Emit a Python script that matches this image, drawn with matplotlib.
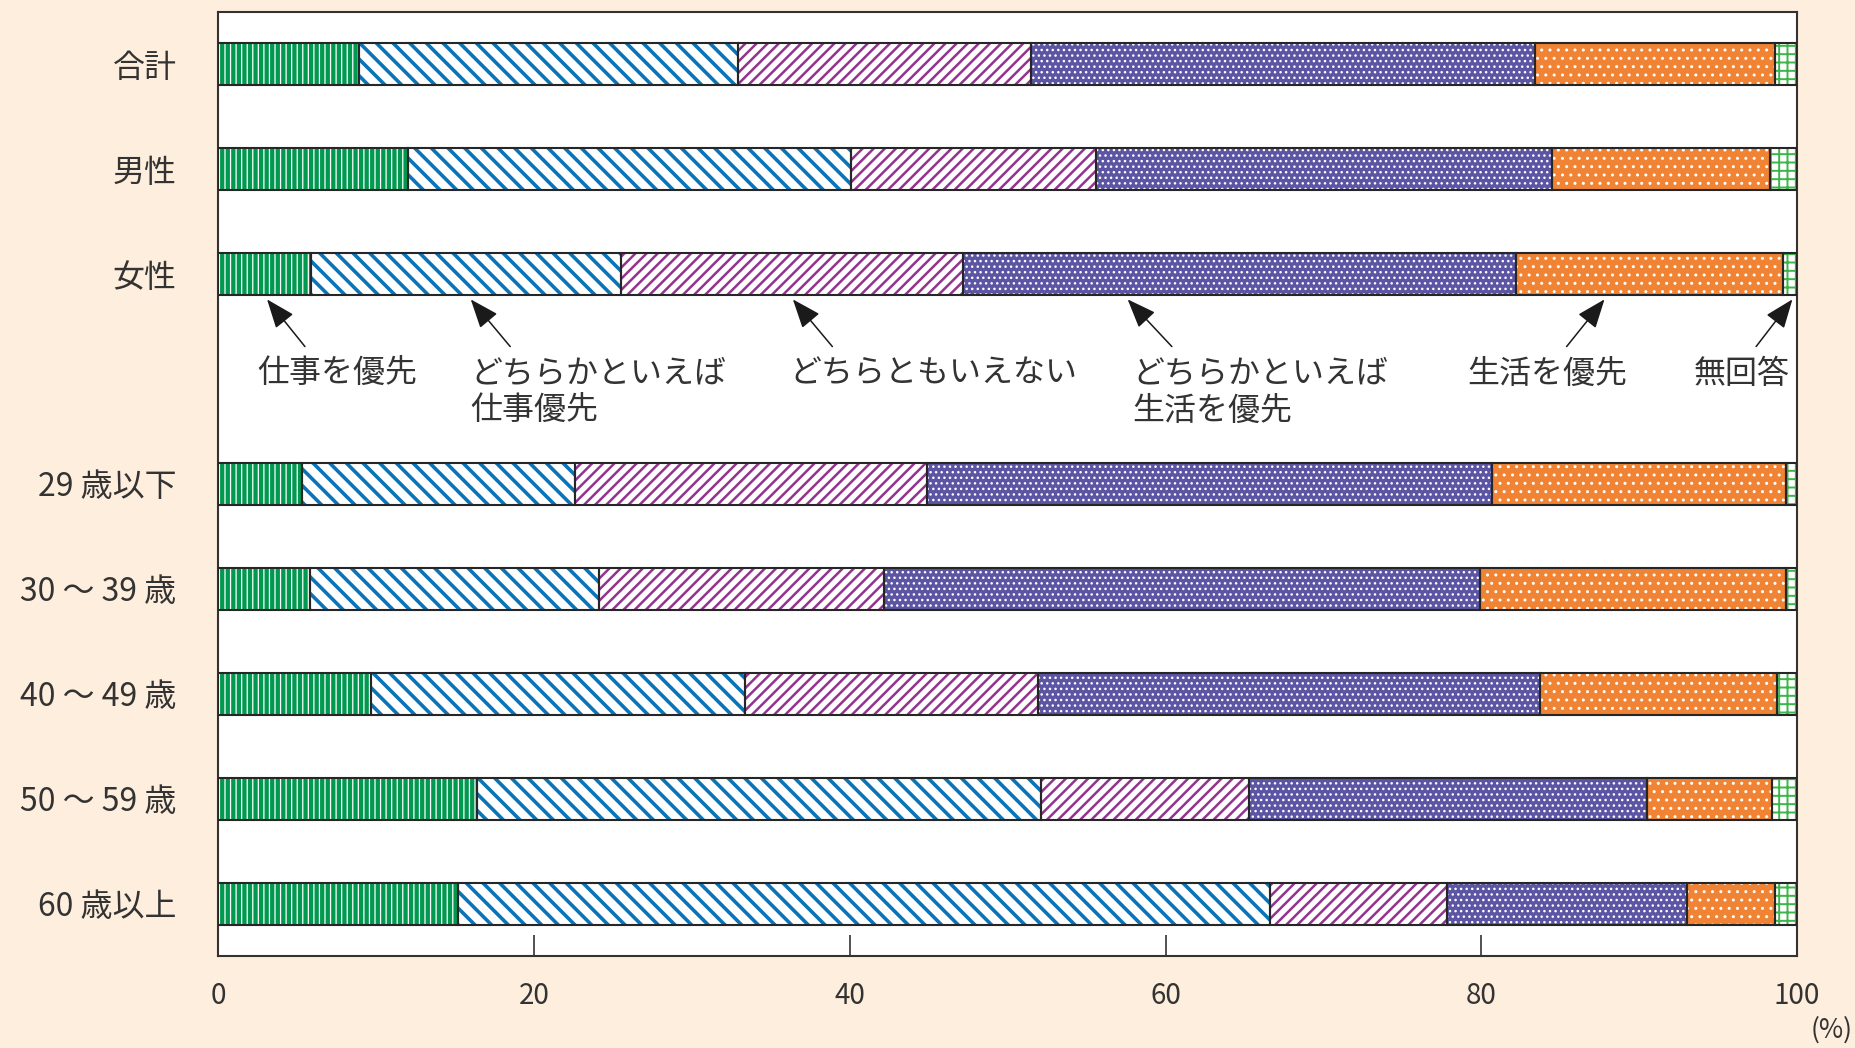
import matplotlib
matplotlib.use("Agg")
import matplotlib.pyplot as plt
import numpy as np

plt.rcParams["font.family"] = ["Noto Sans CJK JP", "DejaVu Sans"]

# ---------- Data (percent) ----------
categories = ["合計", "男性", "女性", "29 歳以下", "30 ～ 39 歳", "40 ～ 49 歳", "50 ～ 59 歳", "60 歳以上"]
series = ["仕事を優先", "どちらかといえば\n仕事優先", "どちらともいえない",
          "どちらかといえば\n生活を優先", "生活を優先", "無回答"]
work_first = [8.9, 12.0, 5.9, 5.3, 5.8, 9.7, 16.4, 15.2]
rather_work = [24.0, 28.1, 19.6, 17.3, 18.3, 23.7, 35.7, 51.4]
neither = [18.6, 15.5, 21.7, 22.3, 18.1, 18.5, 13.2, 11.2]
rather_life = [31.9, 28.9, 35.0, 35.8, 37.7, 31.8, 25.2, 15.2]
life_first = [15.2, 13.8, 16.9, 18.6, 19.4, 15.0, 7.9, 5.6]
no_answer = [1.4, 1.7, 0.9, 0.7, 0.7, 1.3, 1.6, 1.4]
xticks = [0, 20, 40, 60, 80, 100]

values = [work_first, rather_work, neither, rather_life, life_first, no_answer]

# style per series: face colour, hatch colour, hatch, hatch linewidth
styles = [
    ("#00994F", "white", "|||", 0.9),
    ("white", "#0A74BA", "\\\\", 2.6),
    ("white", "#93338F", "///", 1.8),
    ("#5B55A3", "white", "...", 1.0),
    ("#F08434", "white", "..", 1.0),
    ("white", "#3DB54A", "++", 1.4),
]

# ---------- Figure ----------
fig = plt.figure(figsize=(18.56, 10.48), dpi=100)
fig.patch.set_facecolor("#FEEEDD")
ax = fig.add_axes([0.1175, 0.0878, 0.8508, 0.9008])
ax.set_facecolor("white")

# blank slot between the sex rows and the age rows
pos = np.arange(len(categories)) + (np.arange(len(categories)) >= 3)
left = np.zeros(len(categories))
for vals, (face, hcol, hatch, hlw) in zip(values, styles):
    vals = np.array(vals)
    ax.barh(pos, vals, left=left, height=0.4, color=face, linewidth=0, zorder=2)
    with plt.rc_context({"hatch.linewidth": hlw}):
        bars = ax.barh(pos, vals, left=left, height=0.4, color="none", edgecolor=hcol,
                       hatch=hatch, linewidth=0, zorder=3)
    for b in bars:
        if hasattr(b, "set_hatch_linewidth"):
            b.set_hatch_linewidth(hlw)
    ax.barh(pos, vals, left=left, height=0.4, color="none", edgecolor="#262626",
            linewidth=1.5, zorder=4)
    left += vals

ax.set_xlim(0, 100)
ax.set_ylim(8.5, -0.5)
ax.set_yticks(pos)
ax.set_yticklabels(categories, fontsize=23, color="#333333")
ax.tick_params(axis="y", length=0, pad=30)
ax.set_xticks(xticks)
ax.set_xticklabels([str(t) for t in xticks], fontsize=20, color="#333333")
ax.tick_params(axis="x", direction="in", length=15, width=1.2, color="#333333", pad=18)
for sp in ax.spines.values():
    sp.set_color("#333333")
    sp.set_linewidth(1.5)

fig.text(0.987, 0.017, "(%)", fontsize=19, color="#333333", ha="center", va="center")

# ---------- Series labels with arrows (pointing at the 女性 row) ----------
arrows = [
    (3.1, 5.5, 2.5, "left"),
    (16.0, 18.5, 16.0, "left"),
    (36.4, 38.9, 36.2, "left"),
    (57.6, 60.4, 57.9, "left"),
    (87.8, 85.4, 84.2, "center"),
    (99.7, 97.4, 99.5, "right"),
]
for name, (tip, tail, tx, ha) in zip(series, arrows):
    ax.annotate("", xy=(tip, 2.24), xytext=(tail, 2.69),
                arrowprops=dict(arrowstyle="-|>,head_length=0.9,head_width=0.35",
                                mutation_scale=20, color="#1a1a1a", lw=1.1,
                                shrinkA=0, shrinkB=0),
                zorder=5)
    ax.text(tx, 2.80, name, ha=ha, va="top", fontsize=23, color="#333333",
            linespacing=1.2, multialignment="left")

fig.savefig("out.png", dpi=100, facecolor=fig.get_facecolor())
